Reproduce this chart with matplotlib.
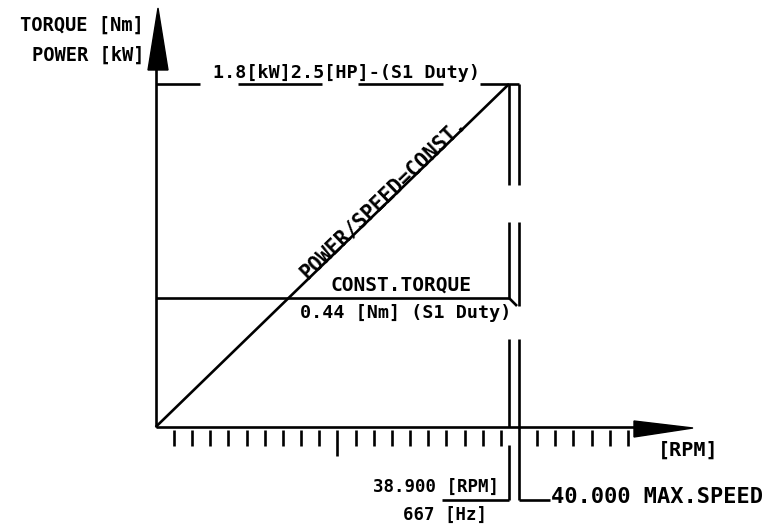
import numpy as np
import matplotlib.pyplot as plt
from matplotlib.patches import Polygon

plt.rcParams['font.family'] = 'DejaVu Sans Mono'
plt.rcParams['font.weight'] = 'bold'

# motor rating values
rated_speed = 38900      # rpm
max_speed = 40000        # rpm
rated_freq = 667         # Hz
rated_power = 1.8        # kW
rated_hp = 2.5
rated_torque = 0.44      # Nm
tick_speeds = np.arange(2000, 52001, 2000)

# drawing scale: origin pixel and px per unit
W, H = 768, 525
ox, oy = 155.7, 427.0
sx = 363.3 / max_speed          # px per rpm
sy = 343.0 / rated_power        # px per kW
torque_scale = (427.0 - 298.0) / sy / rated_torque   # torque drawn on the power scale

def X(px):
    return (px - ox) / sx

def Y(py):
    return (oy - py) / sy

fig = plt.figure(figsize=(7.68, 5.25), dpi=100)
ax = fig.add_axes([0, 0, 1, 1])
ax.set_xlim(X(0), X(W))
ax.set_ylim(Y(H), Y(0))
ax.axis('off')

lw = 1.9
kw = dict(color='black', lw=lw, solid_capstyle='butt')

# axes
ax.plot([0, X(640)], [0, 0], **kw)
ax.plot([0, 0], [0, Y(66)], **kw)
ax.add_patch(Polygon([[X(148), Y(70)], [X(158), Y(8)], [X(168), Y(70)]],
                     closed=True, color='black'))
ax.add_patch(Polygon([[X(634), Y(421)], [X(693), Y(428)], [X(634), Y(437)]],
                     closed=True, color='black'))

# speed ticks
for s in tick_speeds:
    if s == max_speed:
        continue
    low = Y(456) if s == 20000 else Y(446)
    ax.plot([s, s], [Y(430), low], **kw)

# power line and constant torque line
ax.plot([0, rated_speed], [0, rated_power], **kw)
t_level = rated_torque * torque_scale
ax.plot([0, rated_speed], [t_level, t_level], **kw)
ax.plot([rated_speed, X(517)], [t_level, Y(306)], **kw)

# rated power line, broken where the label sits
top_segments = [(0, X(200)), (X(238), X(322)), (X(358), X(443)), (X(480), max_speed)]
for a, b in top_segments:
    ax.plot([a, b], [rated_power, rated_power], **kw)

# rated / max speed double lines
left_segments = [(rated_power, Y(185)), (Y(222), t_level), (Y(339), 0), (Y(445), Y(500))]
right_segments = [(rated_power, Y(185)), (Y(222), Y(306)), (Y(339), Y(500))]
for a, b in left_segments:
    ax.plot([rated_speed, rated_speed], [a, b], **kw)
for a, b in right_segments:
    ax.plot([max_speed, max_speed], [a, b], **kw)
ax.plot([X(442), rated_speed], [Y(500), Y(500)], **kw)
ax.plot([max_speed, X(550)], [Y(500), Y(500)], **kw)

# labels
ax.text(X(144), Y(25), 'TORQUE [Nm]', ha='right', va='center', fontsize=13.5)
ax.text(X(144), Y(55), 'POWER [kW]', ha='right', va='center', fontsize=13.5)
ax.text(X(213), Y(73), f'{rated_power}[kW]{rated_hp}[HP]-(S1 Duty)',
        ha='left', va='center', fontsize=13.2)

ang = np.degrees(np.arctan2(rated_power * sy, rated_speed * sx))
t = 0.656
px = ox + t * rated_speed * sx - 6 * np.sin(np.radians(ang))
py = oy - t * rated_power * sy - 6 * np.cos(np.radians(ang))
ax.text(X(px), Y(py), 'POWER/SPEED=CONST.', ha='center', va='center',
        rotation=ang, rotation_mode='anchor', fontsize=14.8)

ax.text(X(401), Y(285), 'CONST.TORQUE', ha='center', va='center', fontsize=14)
ax.text(X(300), Y(313), f'{rated_torque} [Nm] (S1 Duty)', ha='left',
        va='center', fontsize=13.2)

ax.text(X(499), Y(487), '38.900 [RPM]', ha='right', va='center', fontsize=12.5)
ax.text(X(487), Y(515), f'{rated_freq} [Hz]', ha='right', va='center', fontsize=12.5)
ax.text(X(551), Y(497), '40.000 MAX.SPEED', ha='left', va='center', fontsize=15.8)
ax.text(X(658), Y(450), '[RPM]', ha='left', va='center', fontsize=14.5)

fig.savefig('out.png', dpi=100)
